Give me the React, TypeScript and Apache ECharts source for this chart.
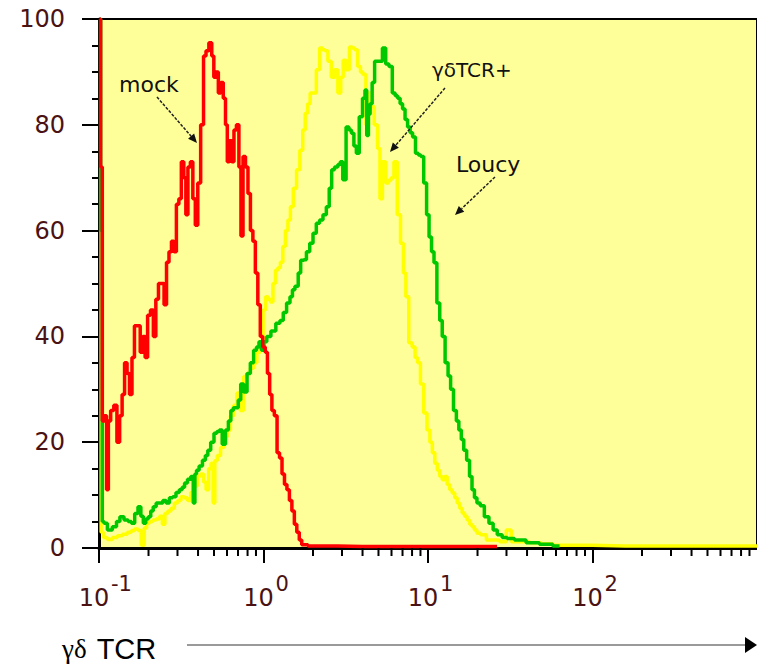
import React, { useEffect, useRef } from "react";
import * as echarts from "echarts";

// x values are log10 of fluorescence intensity (axis spans 10^-1 .. 10^3)
const decades = [-1, 0, 1, 2, 3];
const minorMultipliers = [2, 3, 4, 5, 6, 7, 8, 9];
const yTickValues = [0, 20, 40, 60, 80, 100];

// mock (red)
const mockData: number[][] = [
  [-0.995, 100], [-0.985, 72], [-0.975, 24], [-0.96, 25], [-0.948, 11], [-0.938, 24],
  [-0.92, 26], [-0.9, 27], [-0.882, 20], [-0.867, 25], [-0.852, 29], [-0.837, 35],
  [-0.822, 33], [-0.807, 29], [-0.792, 36], [-0.777, 42], [-0.757, 42], [-0.742, 37],
  [-0.727, 40], [-0.712, 36], [-0.697, 44], [-0.677, 45], [-0.662, 40], [-0.647, 47],
  [-0.63, 50], [-0.612, 50], [-0.597, 46], [-0.582, 54], [-0.567, 56], [-0.552, 58],
  [-0.537, 56], [-0.522, 65], [-0.507, 66], [-0.492, 73], [-0.477, 70], [-0.467, 63],
  [-0.452, 72], [-0.437, 73], [-0.422, 66], [-0.407, 61], [-0.392, 69], [-0.372, 80],
  [-0.357, 93], [-0.342, 94], [-0.322, 95.5], [-0.307, 93], [-0.297, 89], [-0.282, 90],
  [-0.267, 86], [-0.252, 88], [-0.237, 85], [-0.225, 80], [-0.215, 73], [-0.2, 77],
  [-0.187, 73], [-0.172, 79], [-0.157, 80], [-0.142, 72], [-0.132, 59], [-0.117, 74],
  [-0.102, 72], [-0.087, 67], [-0.072, 60], [-0.057, 58], [-0.042, 52], [-0.027, 46],
  [-0.012, 40], [0.003, 38], [0.018, 37], [0.03, 33], [0.045, 29], [0.057, 26],
  [0.075, 25], [0.09, 18], [0.105, 17], [0.12, 14], [0.135, 12], [0.15, 11],
  [0.165, 9], [0.18, 7], [0.195, 4.5], [0.21, 3], [0.225, 1.5], [0.24, 0.6],
  [0.3, 0.4], [0.6, 0.3], [1.0, 0.3], [1.42, 0.3],
];

// γδTCR+ (yellow)
const gdTcrData: number[][] = [
  [-0.992, 72], [-0.982, 3], [-0.964, 2], [-0.934, 1.6], [-0.904, 2], [-0.873, 2.3],
  [-0.843, 2.6], [-0.813, 3], [-0.793, 3.3], [-0.773, 3.6], [-0.753, 3.3], [-0.733, 0.5],
  [-0.718, 3.8], [-0.703, 4.7], [-0.683, 5], [-0.663, 5.3], [-0.642, 5.5], [-0.622, 6],
  [-0.607, 4.5], [-0.592, 6.5], [-0.572, 7], [-0.552, 7.5], [-0.532, 8.5], [-0.512, 9],
  [-0.492, 9.7], [-0.472, 9.5], [-0.452, 9], [-0.432, 10.5], [-0.412, 11.7], [-0.392, 13.6],
  [-0.372, 14], [-0.357, 12.5], [-0.341, 11], [-0.326, 15], [-0.311, 16], [-0.301, 8.5],
  [-0.291, 16.5], [-0.271, 17.5], [-0.251, 19], [-0.231, 21], [-0.211, 22.3], [-0.191, 25],
  [-0.171, 27], [-0.151, 29.3], [-0.131, 26], [-0.111, 32.4], [-0.09, 33], [-0.07, 34],
  [-0.05, 35], [-0.03, 37], [-0.01, 39], [0.005, 45], [0.02, 47.5], [0.035, 47],
  [0.05, 46.5], [0.065, 50], [0.08, 52.5], [0.095, 53], [0.11, 54], [0.125, 57],
  [0.141, 60], [0.156, 62], [0.171, 64.5], [0.191, 68], [0.211, 71.5], [0.231, 75.2],
  [0.246, 79], [0.261, 82.2], [0.276, 84], [0.291, 86], [0.311, 86], [0.331, 90.4],
  [0.351, 94.5], [0.366, 94.2], [0.381, 94], [0.402, 92], [0.422, 89], [0.442, 90.4],
  [0.462, 86], [0.477, 89], [0.492, 92.2], [0.512, 90.4], [0.532, 94.7], [0.547, 94.5],
  [0.562, 94.2], [0.582, 91], [0.597, 90], [0.612, 89.5], [0.633, 80], [0.643, 86],
  [0.663, 83.4], [0.683, 80], [0.703, 75.5], [0.713, 66], [0.733, 73], [0.753, 69],
  [0.768, 69.5], [0.783, 70], [0.803, 73], [0.823, 63], [0.843, 57.6], [0.858, 52],
  [0.873, 47.5], [0.893, 38.8], [0.914, 38], [0.929, 36], [0.944, 35], [0.964, 31],
  [0.984, 25.5], [1.004, 22.3], [1.019, 20], [1.034, 18], [1.049, 16], [1.064, 14.7],
  [1.079, 13.5], [1.094, 12.9], [1.109, 13.5], [1.124, 12], [1.14, 11], [1.155, 10.4],
  [1.17, 9.5], [1.185, 8.5], [1.2, 7.5], [1.215, 6.6], [1.23, 6], [1.245, 5.3],
  [1.26, 4.5], [1.275, 4], [1.29, 3.4], [1.305, 2.8], [1.335, 2.5], [1.375, 1.5],
  [1.416, 1.5], [1.456, 1.2], [1.496, 3.4], [1.516, 1.2], [1.577, 1.2], [1.657, 1],
  [1.717, 0.8], [1.8, 0.5], [2.2, 0.4], [3.0, 0.4],
];

// Loucy (green)
const loucyData: number[][] = [
  [-0.995, 100], [-0.985, 60], [-0.975, 5], [-0.964, 4.7], [-0.934, 3.4], [-0.904, 4],
  [-0.883, 5], [-0.863, 5.9], [-0.833, 5.3], [-0.813, 5], [-0.793, 4.7], [-0.773, 6.5],
  [-0.753, 7.8], [-0.738, 6], [-0.723, 4.7], [-0.708, 5.5], [-0.693, 5.9], [-0.678, 7],
  [-0.663, 7.8], [-0.642, 8.5], [-0.622, 8.5], [-0.602, 9], [-0.582, 8.5], [-0.562, 9.5],
  [-0.542, 9.7], [-0.522, 10.5], [-0.502, 11], [-0.487, 11.5], [-0.472, 12.3], [-0.452, 13],
  [-0.432, 13.5], [-0.422, 8.5], [-0.412, 14], [-0.402, 14.7], [-0.381, 15.5], [-0.361, 16.6],
  [-0.346, 17.5], [-0.331, 18.5], [-0.311, 20], [-0.291, 21.7], [-0.276, 22], [-0.261, 22.3],
  [-0.241, 19.6], [-0.221, 22.3], [-0.206, 24], [-0.191, 26], [-0.176, 26.5], [-0.161, 26.5],
  [-0.146, 28], [-0.131, 31], [-0.11, 29.5], [-0.09, 33], [-0.07, 35], [-0.05, 37.4],
  [-0.035, 38], [-0.02, 39], [-0.005, 37.4], [0.01, 39], [0.03, 40], [0.06, 41],
  [0.09, 42.5], [0.11, 43], [0.13, 44.5], [0.151, 46.3], [0.171, 47.5], [0.181, 48.8],
  [0.201, 49.5], [0.221, 52], [0.231, 54.4], [0.251, 54.5], [0.271, 56], [0.291, 57.6],
  [0.311, 59.5], [0.331, 61.4], [0.351, 62], [0.372, 63], [0.392, 64.5], [0.407, 68],
  [0.422, 71.5], [0.442, 72], [0.462, 72.5], [0.472, 73], [0.492, 69.6], [0.512, 79.6],
  [0.527, 79], [0.542, 78.4], [0.557, 76], [0.572, 74.6], [0.592, 81.5], [0.612, 85],
  [0.622, 86.6], [0.633, 78], [0.643, 82], [0.653, 84], [0.668, 88], [0.683, 92],
  [0.698, 92], [0.713, 92], [0.733, 94.5], [0.753, 91.5], [0.773, 91], [0.793, 86],
  [0.808, 85.5], [0.823, 85], [0.838, 84], [0.853, 83], [0.868, 81], [0.884, 79.6],
  [0.899, 78.5], [0.914, 77.7], [0.934, 74.6], [0.949, 74.3], [0.964, 74], [0.984, 69],
  [0.999, 63], [1.014, 58.8], [1.029, 56], [1.044, 53.9], [1.064, 46.3], [1.079, 43],
  [1.094, 40], [1.114, 35], [1.13, 32.5], [1.145, 30], [1.165, 26], [1.18, 24],
  [1.195, 22.3], [1.21, 20.5], [1.225, 18.5], [1.245, 16.6], [1.26, 13.5], [1.275, 11],
  [1.29, 9.5], [1.305, 8.5], [1.33, 8], [1.355, 5.9], [1.386, 4.7], [1.406, 3.4],
  [1.436, 2.5], [1.466, 2], [1.496, 1.8], [1.556, 1.5], [1.637, 1], [1.717, 0.7],
  [1.8, 0.4],
];

const labelColor = "#4a1212";
const labelFont = "DejaVu Sans";

function arrow(x1: number, y1: number, x2: number, y2: number): any[] {
  const dx = x2 - x1;
  const dy = y2 - y1;
  const L = Math.hypot(dx, dy);
  const ux = dx / L;
  const uy = dy / L;
  const hl = 9;
  const hw = 4;
  const bx = x2 - ux * hl;
  const by = y2 - uy * hl;
  return [
    {
      type: "line",
      z: 100,
      shape: { x1, y1, x2: bx, y2: by },
      style: { stroke: "#222", lineWidth: 1.5, lineDash: [3, 1.5] },
    },
    {
      type: "polygon",
      z: 100,
      shape: { points: [[x2, y2], [bx - uy * hw, by + ux * hw], [bx + uy * hw, by - ux * hw]] },
      style: { fill: "#111" },
    },
  ];
}

export default function App() {
  const ref = useRef<HTMLDivElement>(null);

  useEffect(() => {
    if (!ref.current) return;
    const chart = echarts.init(ref.current, undefined, { renderer: "svg" });

    const minorTicks: number[][] = [];
    decades.slice(0, decades.length - 1).forEach((d) => {
      minorMultipliers.forEach((m) => minorTicks.push([d + Math.log10(m), 0]));
    });

    const lineSeries = (name: string, data: number[][], color: string) => ({
      name,
      type: "line",
      data,
      step: "middle",
      showSymbol: false,
      symbol: "none",
      xAxisIndex: 0,
      yAxisIndex: 0,
      lineStyle: { color, width: 3.5 },
      itemStyle: { color },
      silent: true,
    });

    chart.setOption({
      animation: false,
      grid: {
        left: 99,
        right: -6,
        top: 19,
        bottom: 118,
        show: true,
        backgroundColor: "#ffff99",
        borderColor: "#000",
        borderWidth: 2,
      },
      xAxis: [
        {
          type: "value",
          position: "bottom",
          min: decades[0],
          max: decades[decades.length - 1],
          interval: 1,
          axisLine: { show: true, onZero: false, lineStyle: { color: "#000", width: 3 } },
          axisTick: { show: true, length: 15, lineStyle: { color: "#000", width: 2 } },
          splitLine: { show: false },
          axisLabel: {
            showMaxLabel: false,
            margin: 38,
            color: labelColor,
            fontFamily: labelFont,
            fontSize: 24,
            padding: [0, 10, 0, 0],
            formatter: () => "10",
          },
        },
        {
          type: "value",
          position: "bottom",
          min: decades[0],
          max: decades[decades.length - 1],
          interval: 1,
          axisLine: { show: false, onZero: false },
          axisTick: { show: false },
          splitLine: { show: false },
          axisLabel: {
            showMaxLabel: false,
            margin: 25,
            color: labelColor,
            fontFamily: labelFont,
            fontSize: 21,
            align: "left",
            padding: [0, 0, 0, 12],
            formatter: (v: number) => String(v),
          },
        },
      ],
      yAxis: {
        type: "value",
        min: yTickValues[0],
        max: yTickValues[yTickValues.length - 1],
        interval: 20,
        axisLine: { show: true, onZero: false, lineStyle: { color: "#000", width: 3 } },
        axisTick: { show: true, length: 17, lineStyle: { color: "#000", width: 2 } },
        minorTick: { show: true, splitNumber: 4, length: 7, lineStyle: { color: "#000", width: 2 } },
        splitLine: { show: false },
        axisLabel: {
          margin: 34,
          color: labelColor,
          fontFamily: labelFont,
          fontSize: 24,
        },
      },
      series: [
        lineSeries("γδTCR+", gdTcrData, "#ffff00"),
        lineSeries("Loucy", loucyData, "#00c800"),
        lineSeries("mock", mockData, "#ff0000"),
        {
          type: "custom",
          xAxisIndex: 0,
          yAxisIndex: 0,
          clip: false,
          silent: true,
          z: 10,
          data: minorTicks,
          renderItem: (params: any, api: any) => {
            const p = api.coord([api.value(0), 0]);
            return {
              type: "line",
              shape: { x1: p[0], y1: p[1], x2: p[0], y2: p[1] + 8 },
              style: { stroke: "#000", lineWidth: 2 },
            };
          },
        },
      ],
      graphic: [
        {
          type: "text",
          z: 100,
          style: { x: 119, y: 84, text: "mock", font: "22px 'DejaVu Sans'", fill: "#111", verticalAlign: "middle" },
        },
        {
          type: "text",
          z: 100,
          style: { x: 432, y: 70, text: "γδTCR+", font: "20px 'DejaVu Sans'", fill: "#111", verticalAlign: "middle" },
        },
        {
          type: "text",
          z: 100,
          style: { x: 456, y: 164, text: "Loucy", font: "22px 'DejaVu Sans'", fill: "#111", verticalAlign: "middle" },
        },
        ...arrow(157, 97, 197, 143),
        ...arrow(445, 88, 390, 152),
        ...arrow(495, 177, 455, 215),
        {
          type: "text",
          z: 100,
          style: {
            x: 62,
            y: 649,
            text: "{g|γδ}{t|TCR}",
            verticalAlign: "middle",
            rich: {
              g: { fontFamily: "Liberation Serif", fontSize: 27, fill: "#000", color: "#000" },
              t: { fontFamily: "Liberation Sans", fontSize: 29, fill: "#000", color: "#000", padding: [0, 0, 0, 10] },
            },
          },
        },
        {
          type: "line",
          z: 100,
          shape: { x1: 187, y1: 645, x2: 747, y2: 645 },
          style: { stroke: "#9a9a9a", lineWidth: 2 },
        },
        {
          type: "polygon",
          z: 100,
          shape: { points: [[745, 637], [757, 645], [745, 653]] },
          style: { fill: "#000" },
        },
      ],
    });

    return () => chart.dispose();
  }, []);

  return (
    <div
      ref={ref}
      style={{ position: "absolute", left: 0, top: 0, width: 757, height: 666, background: "#fff" }}
    />
  );
}
